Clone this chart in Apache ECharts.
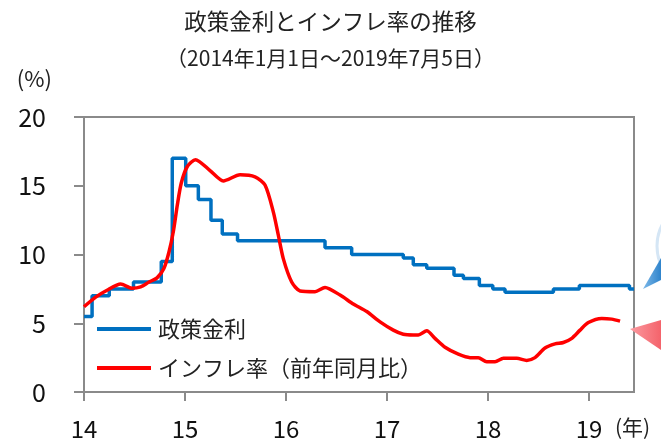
<!DOCTYPE html>
<html>
<head>
<meta charset="utf-8">
<script src="https://cdn.jsdelivr.net/npm/echarts@6/dist/echarts.min.js"></script>
<style>
html,body{margin:0;padding:0;background:#fff;}
#chart{width:661px;height:441px;}
</style>
</head>
<body>
<div id="chart"></div>
<script>
// ---- data (x positions in decimal years) ----
var titleText = '政策金利とインフレ率の推移';
var subtitleText = '（2014年1月1日～2019年7月5日）';
var seriesNames = ['政策金利', 'インフレ率（前年同月比）'];
var xTickValues = [14, 15, 16, 17, 18, 19];
var xTickLabels = ['14', '15', '16', '17', '18', '19'];
var yTickLabels = ['0', '5', '10', '15', '20'];
var xUnitText = '(年)';
var yUnitText = '(%)';

var policyDates = [14.0, 14.08, 14.25, 14.49, 14.765, 14.874, 15.007, 15.132, 15.257, 15.369, 15.52,
  16.386, 16.65, 17.161, 17.26, 17.393, 17.663, 17.756, 17.914, 18.047, 18.168, 18.647, 18.904, 19.40, 19.445];
var policyRates = [5.5, 7.0, 7.5, 8.0, 9.5, 17.0, 15.0, 14.0, 12.5, 11.5, 11.0,
  10.5, 10.0, 9.75, 9.25, 9.0, 8.5, 8.25, 7.75, 7.5, 7.25, 7.5, 7.75, 7.5, 7.5];

var inflDates = [14.0, 14.116, 14.228, 14.363, 14.475, 14.561, 14.644, 14.723, 14.792, 14.842, 14.884,
  14.924, 14.963, 15.023, 15.104, 15.248, 15.379, 15.545, 15.693, 15.792, 15.874, 15.924, 15.973,
  16.056, 16.139, 16.287, 16.386, 16.535, 16.666, 16.799, 16.931, 17.062, 17.161, 17.260, 17.310,
  17.393, 17.475, 17.574, 17.706, 17.822, 17.904, 17.987, 18.069, 18.152, 18.284, 18.383, 18.465,
  18.564, 18.663, 18.746, 18.829, 18.911, 18.993, 19.126, 19.224, 19.307];
var inflRates = [6.2, 6.9, 7.4, 7.85, 7.55, 7.65, 8.0, 8.3, 9.0, 10.2, 11.65,
  13.6, 15.2, 16.4, 16.9, 16.1, 15.35, 15.8, 15.65, 15.05, 13.1, 11.4, 9.7,
  8.0, 7.35, 7.3, 7.6, 7.05, 6.4, 5.85, 5.1, 4.5, 4.2, 4.15, 4.15,
  4.45, 3.9, 3.25, 2.75, 2.5, 2.5, 2.2, 2.2, 2.45, 2.45, 2.3, 2.5,
  3.2, 3.5, 3.6, 3.9, 4.5, 5.05, 5.35, 5.3, 5.15];

function zip(a, b) { return a.map(function (v, i) { return [v, b[i]]; }); }

var FONT = '"Noto Sans CJK JP", "Noto Sans", sans-serif';
var AXIS_COLOR = '#8a8a8a';

var chart = echarts.init(document.getElementById('chart'), null, {renderer: 'canvas'});
chart.setOption({
  animation: false,
  backgroundColor: '#ffffff',
  textStyle: {fontFamily: FONT},
  title: [
    {text: titleText, left: 'center', top: 5,
     textStyle: {fontSize: 22.5, fontWeight: 'normal', color: '#222', fontFamily: FONT}},
    {text: subtitleText, left: 'center', top: 43,
     textStyle: {fontSize: 21, fontWeight: 'normal', color: '#222', fontFamily: FONT}}
  ],
  grid: {left: 84, right: 27, top: 117, bottom: 49, show: true,
         borderColor: AXIS_COLOR, borderWidth: 2, backgroundColor: 'transparent'},
  legend: {
    orient: 'vertical', left: 92, top: 313, itemGap: 17,
    itemWidth: 54, itemHeight: 4, icon: 'rect',
    data: seriesNames,
    textStyle: {fontSize: 22, color: '#222', fontFamily: FONT, padding: [0, 0, 0, 2]}
  },
  xAxis: {
    type: 'value', min: 14, max: 19.445, interval: 1,
    axisLine: {show: true, lineStyle: {color: AXIS_COLOR, width: 2}},
    axisTick: {show: true, inside: false, length: 9, lineStyle: {color: AXIS_COLOR, width: 2}, customValues: xTickValues},
    axisLabel: {fontSize: 24, color: '#111', margin: 25, fontFamily: FONT, customValues: xTickValues,
      formatter: function (v) { var i = xTickValues.indexOf(Math.round(v)); return i >= 0 ? xTickLabels[i] : ''; }},
    splitLine: {show: false}
  },
  yAxis: {
    type: 'value', min: 0, max: 20, interval: 5,
    name: yUnitText, nameLocation: 'end', nameGap: 27,
    nameTextStyle: {fontSize: 22, color: '#222', fontFamily: FONT, align: 'right', padding: [0, 32, 0, 0]},
    axisLine: {show: true, lineStyle: {color: AXIS_COLOR, width: 2}},
    axisTick: {show: true, inside: false, length: 10, lineStyle: {color: AXIS_COLOR, width: 2}},
    axisLabel: {fontSize: 25, color: '#111', margin: 38, fontFamily: FONT, padding: [0, 0, 7, 0],
      formatter: function (v) { return yTickLabels[Math.round(v / 5)]; }},
    splitLine: {show: false}
  },
  series: [
    {name: seriesNames[0], type: 'line', step: 'end', data: zip(policyDates, policyRates),
     symbol: 'none', color: '#0070C0', lineStyle: {color: '#0070C0', width: 3.5}, z: 2},
    {name: seriesNames[1], type: 'line', smooth: 0.25, data: zip(inflDates, inflRates),
     symbol: 'none', color: '#FF0000', lineStyle: {color: '#FF0000', width: 3.5}, z: 3}
  ],
  graphic: [
    {type: 'text', left: 615, top: 417, style: {text: xUnitText, fontSize: 21, fill: '#222', fontFamily: FONT}, silent: true},
    {type: 'circle', shape: {cx: 702, cy: 246, r: 45}, style: {fill: 'none', stroke: '#d5e6f5', lineWidth: 3}, silent: true},
    {type: 'polygon', shape: {points: [[643, 289], [661, 258], [661, 280]]},
     style: {fill: new echarts.graphic.LinearGradient(0, 0, 1, 0, [{offset: 0, color: '#7db8e8'}, {offset: 1, color: '#2f84cc'}])}, silent: true},
    {type: 'polygon', shape: {points: [[630, 329], [661, 320], [661, 350]]},
     style: {fill: new echarts.graphic.LinearGradient(0, 0, 1, 0, [{offset: 0, color: '#fb9aa0'}, {offset: 1, color: '#f4636b'}])}, silent: true}
  ]
});
</script>
</body>
</html>
